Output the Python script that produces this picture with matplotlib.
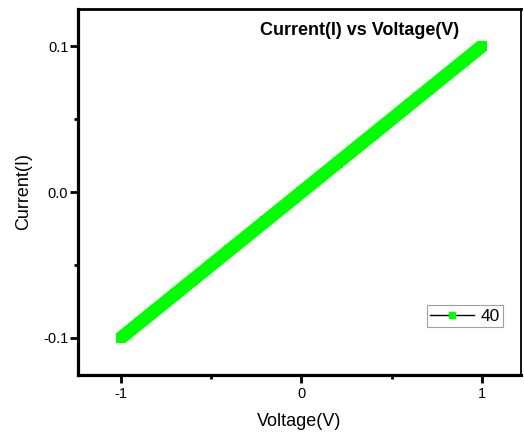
import matplotlib
matplotlib.use("Agg")
import matplotlib.pyplot as plt
from matplotlib.lines import Line2D

plt.rcParams['font.family'] = ['Liberation Sans', 'DejaVu Sans']

voltage = [-1.0, -0.9, -0.8, -0.7, -0.6, -0.5, -0.4, -0.3, -0.2, -0.1, 0.0,
           0.1, 0.2, 0.3, 0.4, 0.5, 0.6, 0.7, 0.8, 0.9, 1.0]
current = [-0.100, -0.090, -0.080, -0.070, -0.060, -0.050, -0.040, -0.030, -0.020, -0.010, 0.000,
           0.010, 0.020, 0.030, 0.040, 0.050, 0.060, 0.070, 0.080, 0.090, 0.100]
series_label = "40"
x_ticks = [-1, 0, 1]
x_ticklabels = ["-1", "0", "1"]
y_ticks = [-0.1, 0.0, 0.1]
y_ticklabels = ["-0.1", "0.0", "0.1"]

green = "#00ff00"

fig = plt.figure(figsize=(5.24, 4.34), dpi=100)
ax = fig.add_axes([78/524, 59/434, (521-78)/524, (375-9)/434])

ax.plot(voltage, current, color=green, linewidth=9.6, solid_capstyle='butt',
        marker='s', markersize=6.8, markeredgewidth=0, markerfacecolor=green, zorder=3)

ax.set_xlim(-1.238, 1.216)
ax.set_ylim(-0.1254, 0.1254)

ax.set_xticks(x_ticks)
ax.set_xticklabels(x_ticklabels)
ax.set_yticks(y_ticks)
ax.set_yticklabels(y_ticklabels)
ax.set_xticks([-0.5, 0.5], minor=True)
ax.set_yticks([-0.05, 0.05], minor=True)

ax.tick_params(axis='both', which='major', direction='out', length=5.5, width=2.0,
               labelsize=10.5, pad=1.5, color='black')
ax.tick_params(axis='both', which='minor', direction='out', length=3, width=2.0, color='black')
ax.tick_params(axis='x', which='major', pad=3)

for side in ['left', 'bottom']:
    ax.spines[side].set_linewidth(2.3)
ax.spines['top'].set_linewidth(2.0)
ax.spines['right'].set_linewidth(1.3)

ax.set_xlabel("Voltage(V)", fontsize=13, labelpad=9)
ax.set_ylabel("Current(I)", fontsize=13, labelpad=8)

ax.text(0.635, 0.94, "Current(I) vs Voltage(V)", transform=ax.transAxes,
        ha='center', va='center', fontsize=13, fontweight='bold')

handle = Line2D([], [], color='black', linewidth=1.0, marker='s', markersize=5,
                markerfacecolor=green, markeredgecolor=green)
leg = ax.legend([handle], [series_label], loc='lower right',
                bbox_to_anchor=(0.96, 0.13), fontsize=12.5, frameon=True, fancybox=False,
                edgecolor='#888888', handlelength=2.5, handletextpad=0.4,
                borderpad=0.2, borderaxespad=0)
leg.get_frame().set_linewidth(0.8)

fig.savefig("out.png", dpi=100)
